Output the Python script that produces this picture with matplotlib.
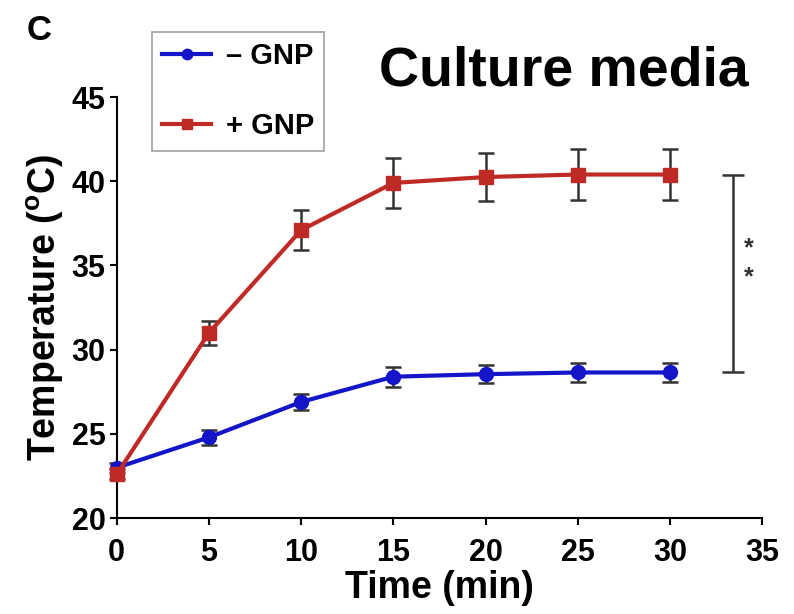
import matplotlib
matplotlib.use("Agg")
import matplotlib.pyplot as plt
import numpy as np

plt.rcParams['font.family'] = ['Liberation Sans', 'DejaVu Sans']
plt.rcParams['font.weight'] = 'bold'
plt.rcParams['mathtext.fontset'] = 'custom'
plt.rcParams['mathtext.rm'] = 'Liberation Sans:bold'
plt.rcParams['mathtext.bf'] = 'Liberation Sans:bold'

# data
time = [0, 5, 10, 15, 20, 25, 30]
minus_gnp = [23.0, 24.8, 26.9, 28.4, 28.55, 28.65, 28.65]
minus_err = [0.3, 0.45, 0.5, 0.6, 0.55, 0.55, 0.55]
plus_gnp = [22.6, 31.0, 37.1, 39.9, 40.25, 40.4, 40.4]
plus_err = [0.3, 0.7, 1.2, 1.5, 1.45, 1.5, 1.5]
sig_x = 33.4
sig_lo, sig_hi = 28.65, 40.4
star_y = [36.0, 34.3]

blue = '#1414c8'
red = '#c02a26'
bar_col = '#333333'

fig = plt.figure(figsize=(7.94, 6.14), dpi=100)
ax = fig.add_axes([0.147, 0.156, 0.813, 0.686])

# error bars first, then lines with markers on top
ax.errorbar(time, minus_gnp, yerr=minus_err, fmt='none', ecolor=bar_col,
            elinewidth=1.8, capsize=6, capthick=1.8, clip_on=False, zorder=2)
ax.errorbar(time, plus_gnp, yerr=plus_err, fmt='none', ecolor=bar_col,
            elinewidth=1.8, capsize=6, capthick=1.8, clip_on=False, zorder=2)
ax.plot(time, minus_gnp, color=blue, lw=3, marker='o', ms=10,
        label='– GNP', clip_on=False, zorder=3)
ax.plot(time, plus_gnp, color=red, lw=3, marker='s', ms=10,
        label='+ GNP', clip_on=False, zorder=4)

# significance bracket
ax.errorbar([sig_x], [(sig_lo + sig_hi) / 2], yerr=[(sig_hi - sig_lo) / 2],
            color=bar_col, elinewidth=1.8, capsize=8, capthick=1.8, clip_on=False)
for y in star_y:
    ax.text(sig_x + 0.85, y, '*', ha='center', va='center', fontsize=18, color=bar_col)

ax.set_xlim(0, 35)
ax.set_ylim(20, 45)
ax.set_xticks(np.arange(0, 36, 5))
ax.set_yticks(np.arange(20, 46, 5))
ax.spines['top'].set_visible(False)
ax.spines['right'].set_visible(False)
ax.spines['left'].set_linewidth(1.5)
ax.spines['bottom'].set_linewidth(1.5)
ax.tick_params(direction='out', length=5, width=1.5, labelsize=22, pad=3)
ax.tick_params(axis='x', pad=9)

ax.set_xlabel('Time (min)', fontsize=27, fontweight='bold', labelpad=2)
ax.set_ylabel(r'Temperature ($^{\mathrm{o}}$C)', fontsize=27, fontweight='bold', labelpad=4)

fig.text(0.71, 0.883, 'Culture media', fontsize=40, fontweight='bold', ha='center', va='center')
fig.text(0.049, 0.95, 'C', fontsize=25, fontweight='bold', ha='center', va='center')

leg = ax.legend(loc='upper left', bbox_to_anchor=(0.191, 0.948), bbox_transform=fig.transFigure,
                fontsize=21, frameon=True, fancybox=False, edgecolor='#888888',
                handlelength=1.7, labelspacing=1.45, borderpad=0.35, handletextpad=0.5,
                borderaxespad=0, markerscale=0.75)
leg.get_frame().set_linewidth(1.2)

fig.savefig('out.png', dpi=100)
